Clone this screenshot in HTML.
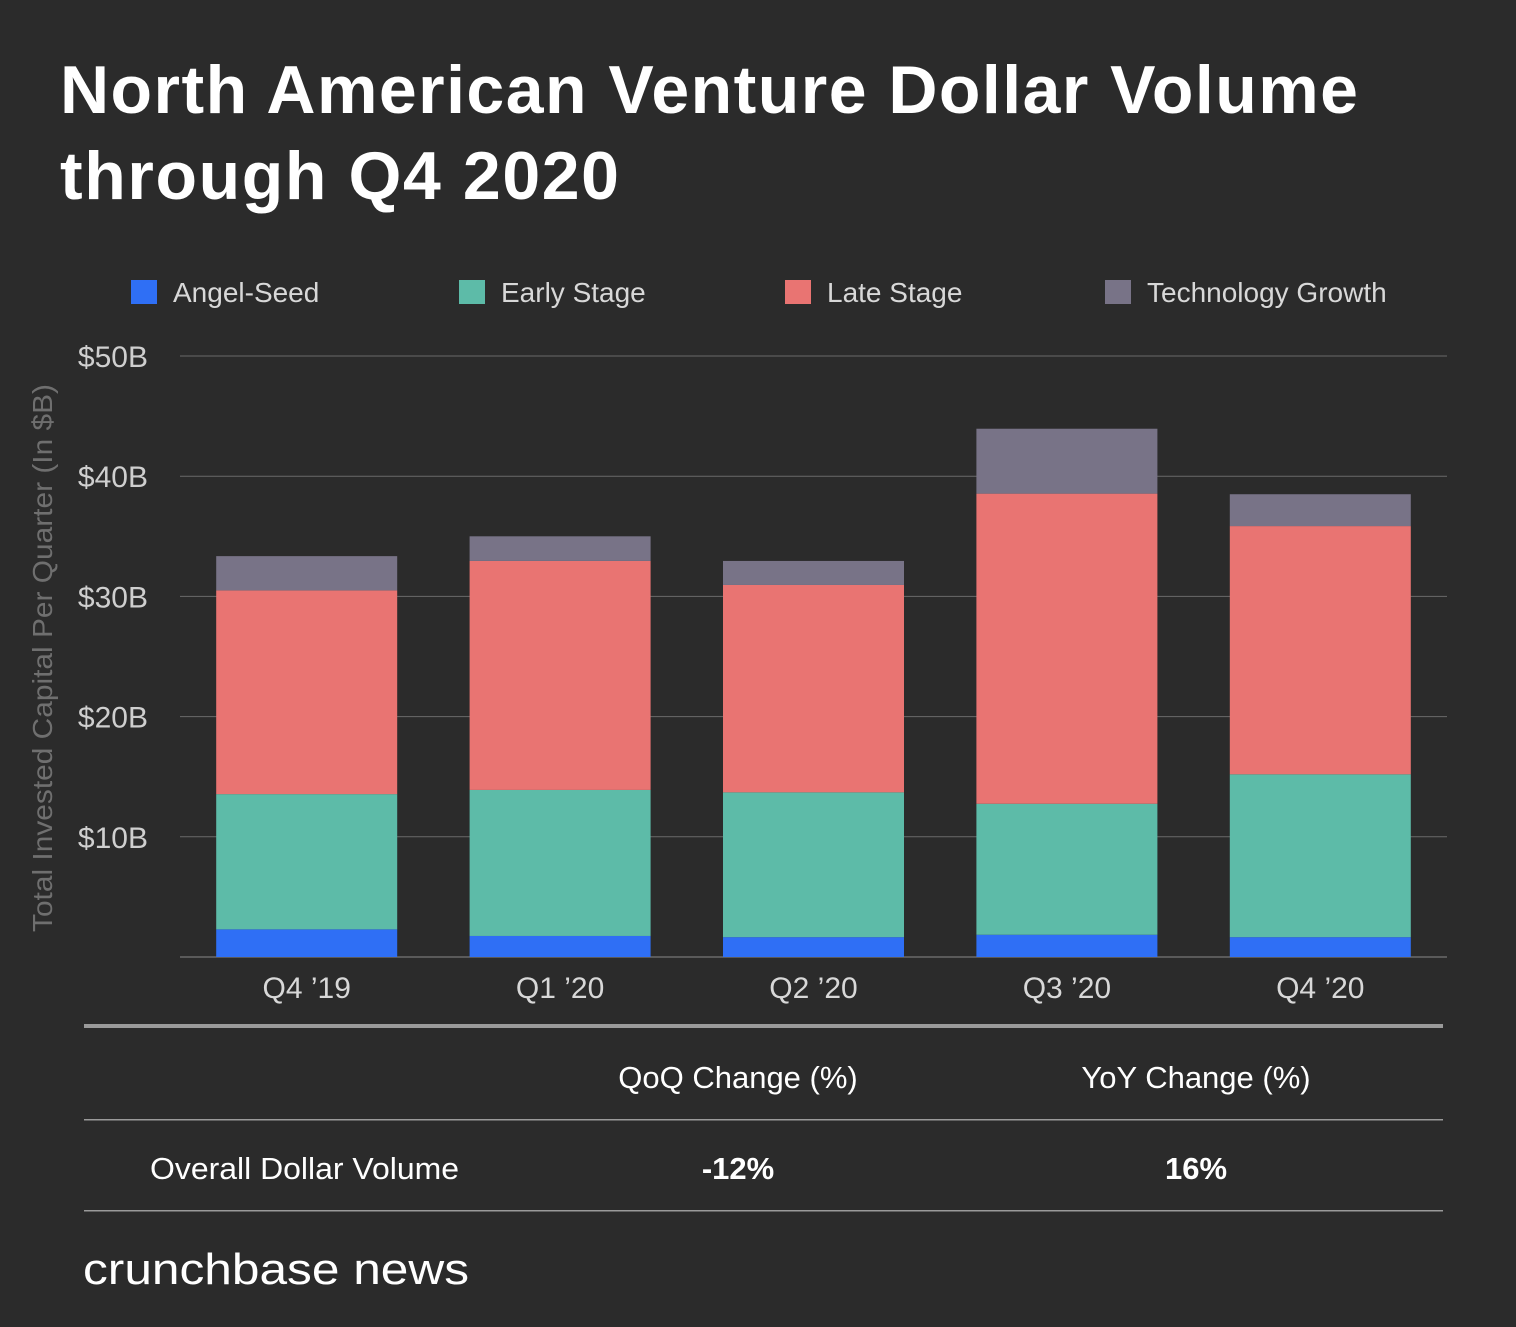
<!DOCTYPE html>
<html><head><meta charset="utf-8">
<style>
body{margin:0;background:#2b2b2b;width:1516px;height:1322px;overflow:hidden;font-family:"Liberation Sans",sans-serif;}
svg text{font-family:"Liberation Sans",sans-serif;}
</style></head>
<body>
<svg id="chart" width="1516" height="1322" xmlns="http://www.w3.org/2000/svg">
<rect width="1516" height="1322" fill="#2b2b2b"/>
<text x="60" y="113" fill="#fff" font-size="68" font-weight="bold" textLength="1298" lengthAdjust="spacing">North American Venture Dollar Volume</text>
<text x="60" y="199" fill="#fff" font-size="68" font-weight="bold" textLength="559" lengthAdjust="spacing">through Q4 2020</text>
<g id="legend"></g>
<g id="grid"></g>
<g id="bars"></g>
<text transform="translate(52,658) rotate(-90)" text-anchor="middle" fill="#6f6f6f" font-size="28" textLength="548" lengthAdjust="spacingAndGlyphs">Total Invested Capital Per Quarter (In $B)</text>
<rect x="84" y="1024" width="1359" height="4" fill="#9a9a9a"/>
<text x="738" y="1088" text-anchor="middle" fill="#fff" font-size="31">QoQ Change (%)</text>
<text x="1196" y="1088" text-anchor="middle" fill="#fff" font-size="31">YoY Change (%)</text>
<rect x="84" y="1119" width="1359" height="1.5" fill="#9a9a9a"/>
<text x="150" y="1179" fill="#fff" font-size="31" textLength="309" lengthAdjust="spacingAndGlyphs">Overall Dollar Volume</text>
<text x="738" y="1179" text-anchor="middle" fill="#fff" font-size="31" font-weight="bold">-12%</text>
<text x="1196" y="1179" text-anchor="middle" fill="#fff" font-size="31" font-weight="bold">16%</text>
<rect x="84" y="1210" width="1359" height="1.5" fill="#9a9a9a"/>
<text x="83" y="1284" fill="#fff" font-size="44" textLength="386" lengthAdjust="spacingAndGlyphs">crunchbase news</text>
</svg>
<script>
const categories=["Q4 \u201919","Q1 \u201920","Q2 \u201920","Q3 \u201920","Q4 \u201920"];
const seriesNames=["Angel-Seed","Early Stage","Late Stage","Technology Growth"];
const angelSeed=[2.3,1.75,1.65,1.85,1.65];
const earlyStage=[11.25,12.15,12.05,10.9,13.55];
const lateStage=[16.95,19.05,17.25,25.8,20.65];
const techGrowth=[2.85,2.05,2.0,5.4,2.65];
const yTicks=[10,20,30,40,50];
const yTickLabels=["$10B","$20B","$30B","$40B","$50B"];
const colors=["#2f6ff5","#5dbba8","#e97472","#787387"];
const NS="http://www.w3.org/2000/svg";
const x0=180,x1=1447,y0=957,yTop=356,yMax=50;
const band=(x1-x0)/categories.length,bw=181;
const yS=v=>y0-(v/yMax)*(y0-yTop);
const xS=i=>x0+band*i+band/2;
function mk(tag,attrs,parent){const e=document.createElementNS(NS,tag);for(const k in attrs)e.setAttribute(k,attrs[k]);parent.appendChild(e);return e;}
const grid=document.getElementById('grid');
let base=mk('line',{x1:x0,x2:x1,y1:y0,y2:y0,stroke:'#8a8a8a','stroke-width':1},grid);


yTicks.forEach((t,i)=>{
 const l=mk('line',{x1:x0,x2:x1,y1:yS(t),y2:yS(t),stroke:'#6a6a6a','stroke-width':1},grid);
 
 
 const tx=mk('text',{x:148,y:yS(t)+11,'text-anchor':'end',fill:'#cfcfcf','font-size':30},grid);
 tx.textContent=yTickLabels[i];
 
 
});
const bars=document.getElementById('bars');
const series=[angelSeed,earlyStage,lateStage,techGrowth];
categories.forEach((c,i)=>{
 let cum=0;
 series.forEach((s,k)=>{
  const v=s[i];
  const r=mk('rect',{x:xS(i)-bw/2,y:yS(cum+v),width:bw,height:yS(cum)-yS(cum+v),fill:colors[k]},bars);
  
  
  cum+=v;
 });
 const t=mk('text',{x:xS(i),y:998,'text-anchor':'middle',fill:'#d8d8d8','font-size':30},bars);
 t.textContent=c;
 
 
});
const legend=document.getElementById('legend');
const lx=[131,459,785,1105];
seriesNames.forEach((n,k)=>{
 const r=mk('rect',{x:lx[k],y:280,width:26,height:24,fill:colors[k]},legend);
 
 
 const t=mk('text',{x:lx[k]+42,y:302,fill:'#d8d8d8','font-size':28},legend);
 t.textContent=n;
 
 
});
</script>
</body></html>
